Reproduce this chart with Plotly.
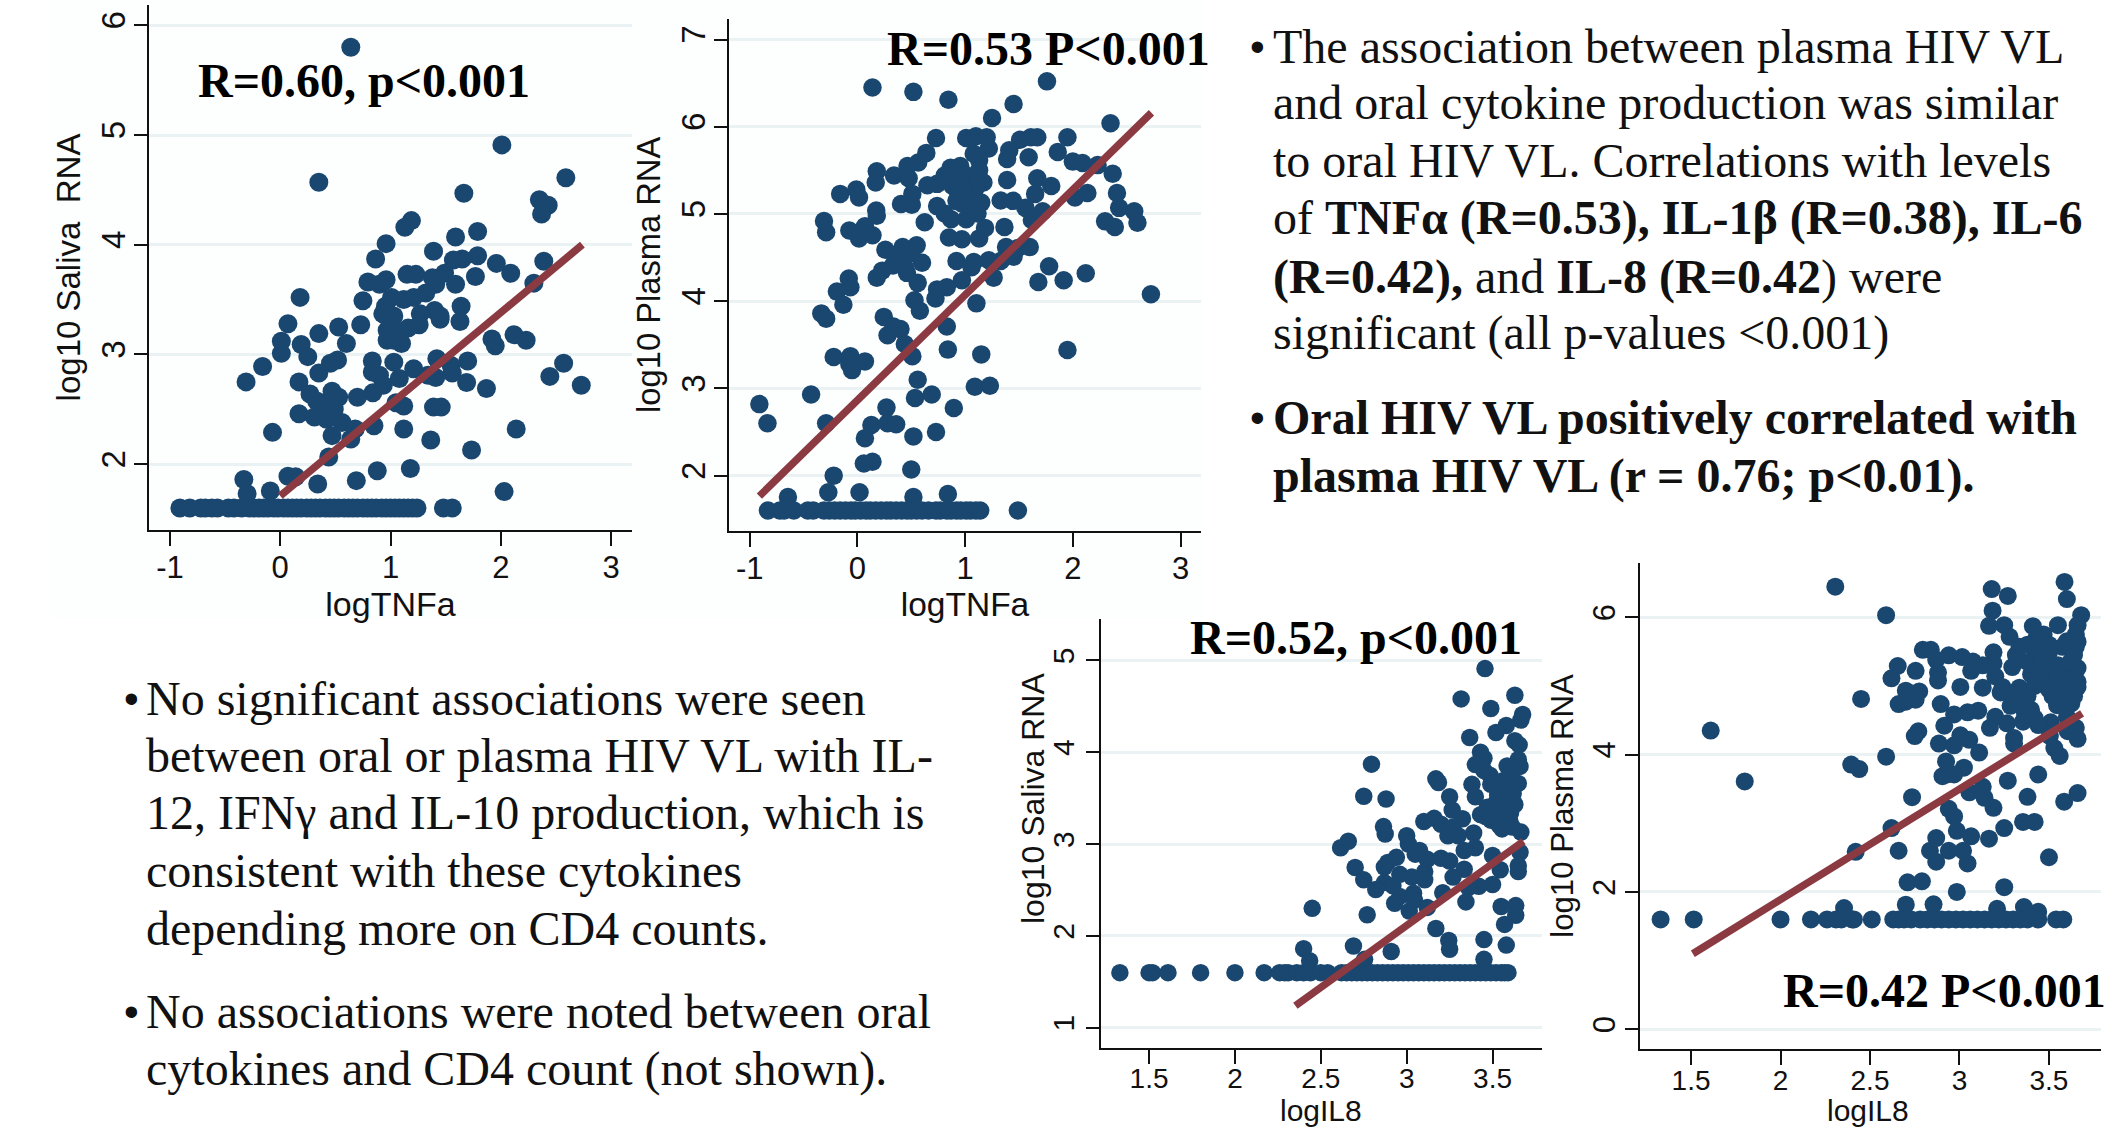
import plotly.graph_objects as go

W, H = 2123, 1130

# ---------- data ----------
saliva_tnf_points = [
(.64,5.80),(2.01,4.91),(2.59,4.61),(.35,4.57),(1.665,4.47),(2.35,4.41),(2.43,4.36),(2.37,4.28),(1.19,4.22),(1.13,4.16),
(1.79,4.12),(1.59,4.07),(.96,4.01),(1.39,3.94),(1.79,3.90),(.865,3.87),(1.65,3.87),(1.57,3.86),(1.96,3.83),(2.39,3.85),
(2.09,3.74),(1.15,3.73),(1.23,3.73),(1.49,3.74),(1.77,3.71),(.96,3.68),(1.38,3.70),(.795,3.66),(.90,3.64),(1.41,3.64),
(1.59,3.64),(2.30,3.65),(1.32,3.56),(.18,3.52),(1.01,3.52),(1.12,3.50),(1.21,3.52),(.75,3.49),(1.64,3.44),(.955,3.44),
(1.40,3.40),(1.27,3.37),(1.45,3.35),(.93,3.37),(1.03,3.35),(1.45,3.32),(1.63,3.30),(.07,3.28),(.73,3.27),(.53,3.25),
(1.26,3.27),(.35,3.19),(.97,3.22),(1.16,3.24),(1.10,3.21),(2.12,3.18),(1.92,3.14),(2.23,3.13),(.01,3.12),(.97,3.13),
(.60,3.10),(.19,3.09),(1.10,3.10),(1.95,3.08),(1.03,3.13),(.01,3.01),(.25,2.98),(.52,2.95),(.455,2.92),(.835,2.94),
(1.03,2.93),(1.42,2.96),(1.70,2.94),(2.57,2.92),(-.16,2.89),(1.21,2.87),(1.55,2.90),(.35,2.83),(.835,2.84),(1.56,2.83),
(1.34,2.81),(1.41,2.79),(.90,2.81),(1.08,2.78),(2.445,2.80),(-.31,2.75),(.17,2.75),(1.69,2.745),(.935,2.72),(2.73,2.72),
(1.87,2.69),(.47,2.665),(.84,2.65),(.27,2.64),(.70,2.61),(.53,2.61),(1.05,2.56),(1.12,2.53),(.40,2.56),(.33,2.575),
(1.39,2.52),(1.46,2.52),(.49,2.50),(.17,2.46),(.31,2.43),(.42,2.41),(.56,2.38),(-.07,2.29),(.85,2.35),(1.12,2.32),
(2.14,2.32),(.68,2.32),(.47,2.26),(.64,2.23),(1.365,2.22),(1.735,2.13),(.44,2.065),(.07,1.89),(.14,1.885),(1.18,1.96),
(.88,1.94),(-.33,1.86),(.34,1.82),(.69,1.85),(-.30,1.73),(-.09,1.755),(2.03,1.75),
]
saliva_tnf_floor_x = [-.91,-.82,-.72,-.68,-.62,-.57,-.47,-.42,-.35,-.28,-.24,-.19,-.15,-.11,-.06,-.02,.03,.07,.11,.15,.19,.24,.28,
.32,.36,.41,.45,.49,.53,.58,.62,.66,.70,.75,.79,.83,.87,.92,.96,1.0,1.04,1.08,1.12,1.16,1.20,1.24,1.48,1.56]

plasma_tnf_points = [
(.14,6.45),(.52,6.40),(.845,6.31),(1.76,6.52),(1.45,6.26),(1.25,6.10),(2.35,6.04),(.73,5.87),(1.01,5.87),(1.10,5.89),
(1.20,5.88),(1.51,5.85),(1.61,5.88),(1.67,5.88),(1.95,5.88),(1.22,5.75),(.64,5.70),(1.08,5.69),(1.41,5.73),(1.86,5.71),
(1.39,5.63),(1.59,5.65),(1.13,5.62),(.565,5.59),(.465,5.55),(2.0,5.60),(2.09,5.585),(2.23,5.56),(.865,5.53),(.955,5.55),
(.18,5.49),(1.13,5.50),(.34,5.44),(.476,5.41),(2.37,5.46),(.81,5.44),(.90,5.46),(1.01,5.44),(1.39,5.39),(1.67,5.41),
(.17,5.36),(1.17,5.36),(.74,5.345),(.65,5.33),(1.80,5.32),(.885,5.32),(1.04,5.32),(-.16,5.23),(-.01,5.28),(2.41,5.24),
(.51,5.23),(2.135,5.24),(1.65,5.23),(.015,5.19),(.94,5.23),(1.08,5.23),(1.33,5.155),(1.445,5.15),(2.02,5.19),(1.15,5.13),
(.405,5.115),(.505,5.105),(.97,5.12),(.74,5.09),(1.56,5.07),(.175,5.04),(2.43,5.07),(2.57,5.03),(1.72,5.03),(.18,4.98),
(.81,5.005),(1.115,5.005),(1.01,4.94),(.87,4.94),(-.31,4.92),(.625,4.905),(1.62,4.93),(2.30,4.915),(2.60,4.90),(2.39,4.85),
(1.185,4.84),(1.365,4.85),(.07,4.86),(-.29,4.79),(-.075,4.81),(.14,4.755),(.015,4.72),(.85,4.73),(.97,4.71),(1.13,4.72),
(.55,4.64),(.42,4.62),(.26,4.59),(1.38,4.62),(1.49,4.61),(1.60,4.62),(.35,4.53),(.49,4.55),(1.45,4.51),(.60,4.44),
(.92,4.46),(1.08,4.45),(1.22,4.47),(1.33,4.46),(.33,4.41),(.44,4.39),(1.06,4.39),(1.78,4.40),(.23,4.35),(.46,4.325),
(.18,4.27),(2.12,4.32),(-.08,4.26),(.97,4.24),(1.265,4.27),(1.915,4.24),(1.68,4.22),(.56,4.21),(-.065,4.16),(-.19,4.11),
(.83,4.16),(.74,4.135),(.725,4.03),(2.725,4.08),(.53,4.01),(1.105,3.975),(-.13,3.96),(.58,3.89),(-.335,3.86),(-.29,3.80),
(.245,3.82),(.335,3.71),(.40,3.68),(.83,3.71),(.28,3.61),(.44,3.51),(.84,3.445),(1.95,3.44),(.51,3.37),(1.15,3.39),
(-.22,3.36),(-.065,3.37),(.07,3.31),(-.05,3.21),(-.075,3.28),(.56,3.10),(1.09,3.02),(1.23,3.03),(-.43,2.93),(.69,2.93),
(.535,2.89),(-.91,2.82),(.27,2.78),(.895,2.775),(-.835,2.60),(-.29,2.60),(.13,2.58),(.28,2.60),(.36,2.59),(.73,2.50),
(.07,2.43),(.52,2.45),(.14,2.16),(.06,2.14),(-.22,2.00),(.50,2.07),(-.27,1.81),(.02,1.81),(-.645,1.755),(.52,1.755),
(.84,1.79),(.95,5.40),(1.03,5.38),(1.10,5.30),(.92,5.15),(1.0,5.18),(1.05,5.10),(1.12,5.42),(.98,5.27),(1.07,5.15),
]
plasma_tnf_floor_x = [-.83,-.72,-.68,-.59,-.46,-.41,-.31,-.26,-.21,-.16,-.11,-.06,-.02,.03,.08,.12,.17,.22,.27,.31,.36,.41,.46,
.5,.55,.6,.66,.73,.77,.83,.87,.92,.96,1.01,1.05,1.1,1.14,1.49]

saliva_il8_points = [
(3.273,5.80),(3.456,4.91),(3.317,4.58),(3.63,4.62),(3.49,4.475),(3.675,4.41),(3.665,4.35),(3.58,4.29),(3.52,4.215),(3.367,4.16),
(3.63,4.125),(3.655,4.08),(3.43,4.0),(3.45,3.935),(2.795,3.87),(3.40,3.865),(3.65,3.92),(3.585,3.85),(3.66,3.845),(3.45,3.80),
(3.17,3.71),(3.185,3.67),(3.485,3.75),(3.605,3.77),(3.49,3.65),(3.38,3.65),(3.56,3.69),(3.65,3.66),(3.40,3.515),(2.75,3.52),
(3.25,3.515),(2.88,3.49),(3.53,3.535),(3.595,3.495),(3.63,3.43),(3.265,3.37),(3.43,3.32),(3.47,3.40),(3.545,3.36),(3.605,3.34),
(3.10,3.245),(3.16,3.28),(3.20,3.215),(3.325,3.275),(3.49,3.26),(3.565,3.28),(2.865,3.19),(2.875,3.11),(3.27,3.185),(3.555,3.165),
(3.615,3.185),(3.39,3.12),(3.00,3.09),(3.24,3.09),(3.30,3.09),(3.665,3.13),(2.66,3.03),(2.615,2.96),(3.01,3.00),(3.40,2.96),
(3.335,2.93),(3.075,2.93),(3.66,2.91),(3.05,2.89),(2.94,2.855),(3.50,2.875),(3.12,2.835),(3.20,2.845),(3.25,2.815),(2.89,2.80),
(2.70,2.745),(3.65,2.765),(2.87,2.75),(3.335,2.725),(3.545,2.72),(3.105,2.70),(3.65,2.70),(2.96,2.67),(3.03,2.64),(3.27,2.64),
(2.75,2.61),(3.105,2.61),(2.87,2.58),(2.92,2.545),(3.50,2.56),(3.42,2.54),(3.36,2.525),(2.82,2.505),(3.04,2.465),(3.21,2.47),
(2.96,2.43),(2.93,2.355),(3.345,2.37),(3.045,2.39),(3.635,2.33),(3.55,2.32),(2.45,2.30),(3.12,2.31),(3.015,2.27),(2.77,2.23),
(3.635,2.225),(3.57,2.125),(3.17,2.08),(3.245,1.95),(3.45,1.96),(3.58,1.90),(2.40,1.86),(2.69,1.89),(3.25,1.855),(2.91,1.83),
(2.435,1.73),(2.755,1.745),(3.45,1.745),(3.52,3.45),(3.58,3.40),(3.62,3.55),(3.59,3.65),(3.54,3.2),(3.6,3.25),(3.46,3.3),
]
saliva_il8_floor_x = [1.33,1.5,1.52,1.61,1.8,2.0,2.17,2.26,2.29,2.31,2.36,2.4,2.44,2.5,2.54,2.62,2.65,2.68,2.71,2.74,2.77,2.8,2.83,
2.86,2.89,2.92,2.95,2.98,3.01,3.04,3.07,3.1,3.13,3.16,3.19,3.22,3.25,3.28,3.31,3.34,3.37,3.4,3.43,3.46,3.49,3.52,3.55,3.57,3.59]

plasma_il8_points = [
(2.306,6.445),(3.587,6.515),(3.18,6.41),(3.27,6.31),(3.60,6.265),(2.59,6.03),(3.185,6.095),(3.68,6.03),(3.25,5.885),(3.165,5.875),
(3.41,5.87),(3.55,5.885),(3.66,5.885),(3.28,5.715),(3.47,5.75),(3.43,5.70),(3.65,5.75),(3.66,5.645),(3.40,5.59),(3.335,5.57),
(3.575,5.57),(3.65,5.57),(2.795,5.525),(2.84,5.525),(3.19,5.49),(2.94,5.445),(3.315,5.45),(3.44,5.49),(3.50,5.49),(3.015,5.42),
(2.87,5.38),(3.075,5.355),(3.19,5.33),(2.655,5.29),(3.13,5.30),(3.295,5.275),(3.065,5.22),(3.66,5.26),(2.755,5.22),(3.46,5.275),
(2.88,5.195),(3.40,5.17),(3.50,5.195),(2.62,5.11),(2.88,5.08),(3.20,5.14),(3.46,5.09),(3.565,5.115),(3.66,5.06),(3.005,4.985),
(3.13,4.975),(3.24,4.985),(3.335,4.975),(3.565,4.96),(3.66,4.985),(2.70,4.93),(2.775,4.92),(3.23,4.905),(2.45,4.81),(2.755,4.80),
(3.315,4.825),(3.52,4.85),(3.615,4.85),(2.66,4.735),(2.70,4.77),(2.895,4.735),(3.285,4.71),(3.545,4.72),(3.625,4.745),(3.105,4.64),
(3.045,4.615),(2.97,4.585),(3.365,4.615),(3.20,4.55),(3.42,4.53),(2.915,4.42),(3.265,4.455),(3.51,4.47),(3.355,4.48),(3.17,4.39),
(3.44,4.43),(3.65,4.39),(2.77,4.34),(3.605,4.34),(1.61,4.35),(2.75,4.27),(3.005,4.28),(3.055,4.215),(3.305,4.24),(3.505,4.27),
(3.66,4.23),(2.885,4.16),(2.97,4.135),(3.305,4.16),(3.53,4.095),(3.11,4.03),(3.56,3.98),(2.59,3.97),(2.925,3.90),(2.395,3.855),
(2.44,3.79),(3.025,3.81),(2.93,3.71),(2.905,3.685),(2.97,3.71),(3.44,3.71),(1.80,3.61),(3.27,3.62),(3.13,3.53),(3.055,3.45),
(3.14,3.37),(2.735,3.38),(3.38,3.385),(3.66,3.44),(3.585,3.315),(3.19,3.225),(2.94,3.21),(2.97,3.10),(3.355,3.02),(3.42,3.02),
(2.62,2.93),(3.25,2.93),(2.985,2.89),(3.065,2.81),(2.87,2.785),(3.165,2.775),(2.835,2.60),(2.94,2.60),(3.02,2.60),(2.66,2.60),
(2.42,2.585),(3.50,2.505),(2.87,2.44),(3.045,2.415),(2.71,2.14),(2.79,2.155),(3.25,2.07),(2.985,2.00),(2.70,1.815),(2.855,1.82),
(2.355,1.765),(3.21,1.755),(3.36,1.78),(3.44,1.71),(3.38,5.35),(3.42,5.30),(3.48,5.38),(3.55,5.30),(3.6,5.20),(3.62,5.05),
(3.58,5.0),(3.52,5.05),(3.35,4.75),(3.4,4.65),(3.64,5.45),(3.62,5.35),(3.6,5.65),(3.64,5.1),(3.64,4.85),(3.6,4.7),(3.58,4.8),
(3.45,5.15),(3.42,5.0),(3.3,4.9),(3.38,4.85),(3.5,5.6),(3.38,5.6),(3.47,5.55),(3.55,5.15),(3.5,4.95),(3.6,4.55),(3.46,5.4),
]
plasma_il8_floor_x = [1.33,1.515,2.0,2.17,2.26,2.31,2.34,2.40,2.41,2.51,2.63,2.66,2.69,2.73,2.78,2.82,2.86,2.9,2.94,2.98,3.02,3.06,
3.1,3.14,3.18,3.22,3.26,3.3,3.34,3.38,3.44,3.54,3.58]

floor_value = 1.6

fit_saliva_tnf_x, fit_saliva_tnf_y = [0.0, 2.74], [1.71, 4.00]
fit_plasma_tnf_x, fit_plasma_tnf_y = [-.91, 2.73], [1.765, 6.16]
fit_saliva_il8_x, fit_saliva_il8_y = [2.352, 3.68], [1.24, 3.03]
fit_plasma_il8_x, fit_plasma_il8_y = [1.51, 3.685], [1.10, 4.60]

xticks_tnf = [-1, 0, 1, 2, 3]
xticks_il8 = [1.5, 2, 2.5, 3, 3.5]
yticks_saliva_tnf = [2, 3, 4, 5, 6]
yticks_plasma_tnf = [2, 3, 4, 5, 6, 7]
yticks_saliva_il8 = [1, 2, 3, 4, 5]
yticks_plasma_il8 = [0, 2, 4, 6]

top_right_lines = [
    ("The association between plasma HIV VL", 46, True),
    ("and oral cytokine production was similar", 103, False),
    ("to oral HIV VL. Correlations with levels", 160, False),
    ("of <b>TNFα (R=0.53), IL-1β (R=0.38), IL-6</b>", 218, False),
    ("<b>(R=0.42),</b> and <b>IL-8 (R=0.42</b>) were", 277, False),
    ("significant (all p-values &lt;0.001)", 333, False),
    ("<b>Oral HIV VL positively correlated with</b>", 418, True),
    ("<b>plasma HIV VL (r = 0.76; p&lt;0.01).</b>", 476, False),
]
bottom_left_lines = [
    ("No significant associations were seen", 698, True),
    ("between oral or plasma HIV VL with IL-", 755, False),
    ("12, IFNγ and IL-10 production, which is", 812, False),
    ("consistent with these cytokines", 870, False),
    ("depending more on CD4 counts.", 928, False),
    ("No associations were noted between oral", 1011, True),
    ("cytokines and CD4 count (not shown).", 1069, False),
]

# ---------- styling ----------
NAVY = "#1A476F"
RED = "#8B3A42"
GRID = "#EAF2F3"
SANS = "Liberation Sans, Arial, sans-serif"
SERIF = "Liberation Serif, Times New Roman, serif"
INK = "#111111"

panels = [
    dict(points=saliva_tnf_points, floor=saliva_tnf_floor_x, fx=fit_saliva_tnf_x, fy=fit_saliva_tnf_y,
         box=(149, 632, 5, 530), xr=(-1.19, 3.19), yr=(1.40, 6.185), xt=xticks_tnf, yt=yticks_saliva_tnf,
         xtitle="logTNFa", ytitle="log10 Saliva\u00a0\u00a0RNA", ms=19, xf=31, yf=33, xts=34, yts=33, xo=-5, yo=-4,
         note="R=0.60, p&lt;0.001", note_xy=(196, 81)),
    dict(points=plasma_tnf_points, floor=plasma_tnf_floor_x, fx=fit_plasma_tnf_x, fy=fit_plasma_tnf_y,
         box=(729, 1201, 19, 530.6), xr=(-1.192, 3.19), yr=(1.37, 7.235), xt=xticks_tnf, yt=yticks_plasma_tnf,
         xtitle="logTNFa", ytitle="log10 Plasma RNA", ms=18.5, xf=31, yf=33, xts=33.5, yts=32.7, xo=-5, yo=-4,
         note="R=0.53 P&lt;0.001", note_xy=(885, 49)),
    dict(points=saliva_il8_points, floor=saliva_il8_floor_x, fx=fit_saliva_il8_x, fy=fit_saliva_il8_y,
         box=(1101, 1542, 619, 1047.5), xr=(1.22, 3.788), yr=(.785, 5.45), xt=xticks_il8, yt=yticks_saliva_il8,
         xtitle=None, ytitle=None, ms=17.5, xf=28, yf=30, xts=31.5, yts=32, xo=-9, yo=0,
         note="R=0.52, p&lt;0.001", note_xy=(1188, 637)),
    dict(points=plasma_il8_points, floor=plasma_il8_floor_x, fx=fit_plasma_il8_x, fy=fit_plasma_il8_y,
         box=(1640.4, 2101.4, 563, 1049), xr=(1.217, 3.793), yr=(-.287, 6.79), xt=xticks_il8, yt=yticks_plasma_il8,
         xtitle=None, ytitle="log10 Plasma RNA", ms=18, xf=28, yf=31, xts=31.5, yts=31.2, xo=-9, yo=-2,
         note="R=0.42 P&lt;0.001", note_xy=(1781, 990)),
]

# the two lower panels sit against the bottom edge, so their x titles are placed directly
loose_titles = [
    dict(text="log10 Saliva RNA", x=1033, y=799, size=32, angle=-90),
    dict(text="logIL8", x=1321, y=1110, size=30, angle=0),
    dict(text="logIL8", x=1868, y=1110, size=30, angle=0),
]

fig = go.Figure()
annotations = []
layout_axes = {}
for i, p in enumerate(panels, start=1):
    sfx = "" if i == 1 else str(i)
    xa, ya = f"x{sfx}", f"y{sfx}"
    x0, x1, y0, y1 = p["box"]
    xs = [q[0] for q in p["points"]] + p["floor"]
    ys = [q[1] for q in p["points"]] + [floor_value] * len(p["floor"])
    fig.add_trace(go.Scatter(x=xs, y=ys, mode="markers", xaxis=xa, yaxis=ya, cliponaxis=False,
                             marker=dict(color=NAVY, size=p["ms"], line=dict(width=0)), showlegend=False))
    fig.add_trace(go.Scatter(x=p["fx"], y=p["fy"], mode="lines", xaxis=xa, yaxis=ya, cliponaxis=False,
                             line=dict(color=RED, width=7.5), showlegend=False))
    xtitle = dict(text=p["xtitle"], font=dict(family=SANS, size=p["xts"], color=INK), standoff=0) if p["xtitle"] else None
    layout_axes[f"xaxis{sfx}"] = dict(
        domain=[x0 / W, x1 / W], range=list(p["xr"]), anchor=ya, showgrid=False, zeroline=False,
        showline=True, linecolor=INK, linewidth=2, ticks="outside", ticklen=14, tickwidth=2, tickcolor=INK,
        tickvals=p["xt"], ticktext=[str(t) for t in p["xt"]], tickangle=0, ticklabelstandoff=p["xo"],
        tickfont=dict(family=SANS, size=p["xf"], color=INK), **({"title": xtitle} if xtitle else {}))
    ytitle = dict(text=p["ytitle"], font=dict(family=SANS, size=p["yts"], color=INK), standoff=4) if p["ytitle"] else None
    layout_axes[f"yaxis{sfx}"] = dict(
        domain=[1 - y1 / H, 1 - y0 / H], range=list(p["yr"]), anchor=xa, showgrid=True, gridcolor=GRID, gridwidth=2.5,
        zeroline=False, showline=True, linecolor=INK, linewidth=2, ticks="outside", ticklen=13, tickwidth=2,
        tickcolor=INK, tickvals=p["yt"], ticktext=[str(t) for t in p["yt"]], tickangle=-90, ticklabelstandoff=p["yo"],
        tickfont=dict(family=SANS, size=p["yf"], color=INK), **({"title": ytitle} if ytitle else {}))
    annotations.append(dict(text="<b>%s</b>" % p["note"], x=p["note_xy"][0] / W, y=1 - p["note_xy"][1] / H,
                            xref="paper", yref="paper", xanchor="left", yanchor="middle", showarrow=False,
                            font=dict(family=SERIF, size=48, color="black")))

for t in loose_titles:
    annotations.append(dict(text=t["text"], x=t["x"] / W, y=1 - t["y"] / H, xref="paper", yref="paper",
                            xanchor="center", yanchor="middle", textangle=t["angle"], showarrow=False,
                            font=dict(family=SANS, size=t["size"], color=INK)))

for lines, bx, tx in ((top_right_lines, 1248, 1271), (bottom_left_lines, 122, 144)):
    for text, yc, bullet in lines:
        annotations.append(dict(text=text, x=tx / W, y=1 - yc / H, xref="paper", yref="paper", xanchor="left",
                                yanchor="middle", showarrow=False, font=dict(family=SERIF, size=48, color=INK)))
        if bullet:
            annotations.append(dict(text="•", x=bx / W, y=1 - yc / H, xref="paper", yref="paper", xanchor="left",
                                    yanchor="middle", showarrow=False, font=dict(family=SANS, size=42, color=INK)))

fig.update_layout(
    width=W, height=H, margin=dict(l=0, r=0, t=0, b=0), paper_bgcolor="white", plot_bgcolor="rgba(0,0,0,0)",
    showlegend=False, annotations=annotations,
    shapes=[dict(type="rect", xref="paper", yref="paper", x0=50 / W, x1=1203 / W, y0=1 - 618 / H, y1=1,
                 fillcolor="#FDFEFE", line=dict(width=0), layer="below")],
    **layout_axes)

fig.write_html("out.html", config=dict(displayModeBar=False),
               post_script="document.body.style.margin='0';document.body.style.overflow='hidden';")
